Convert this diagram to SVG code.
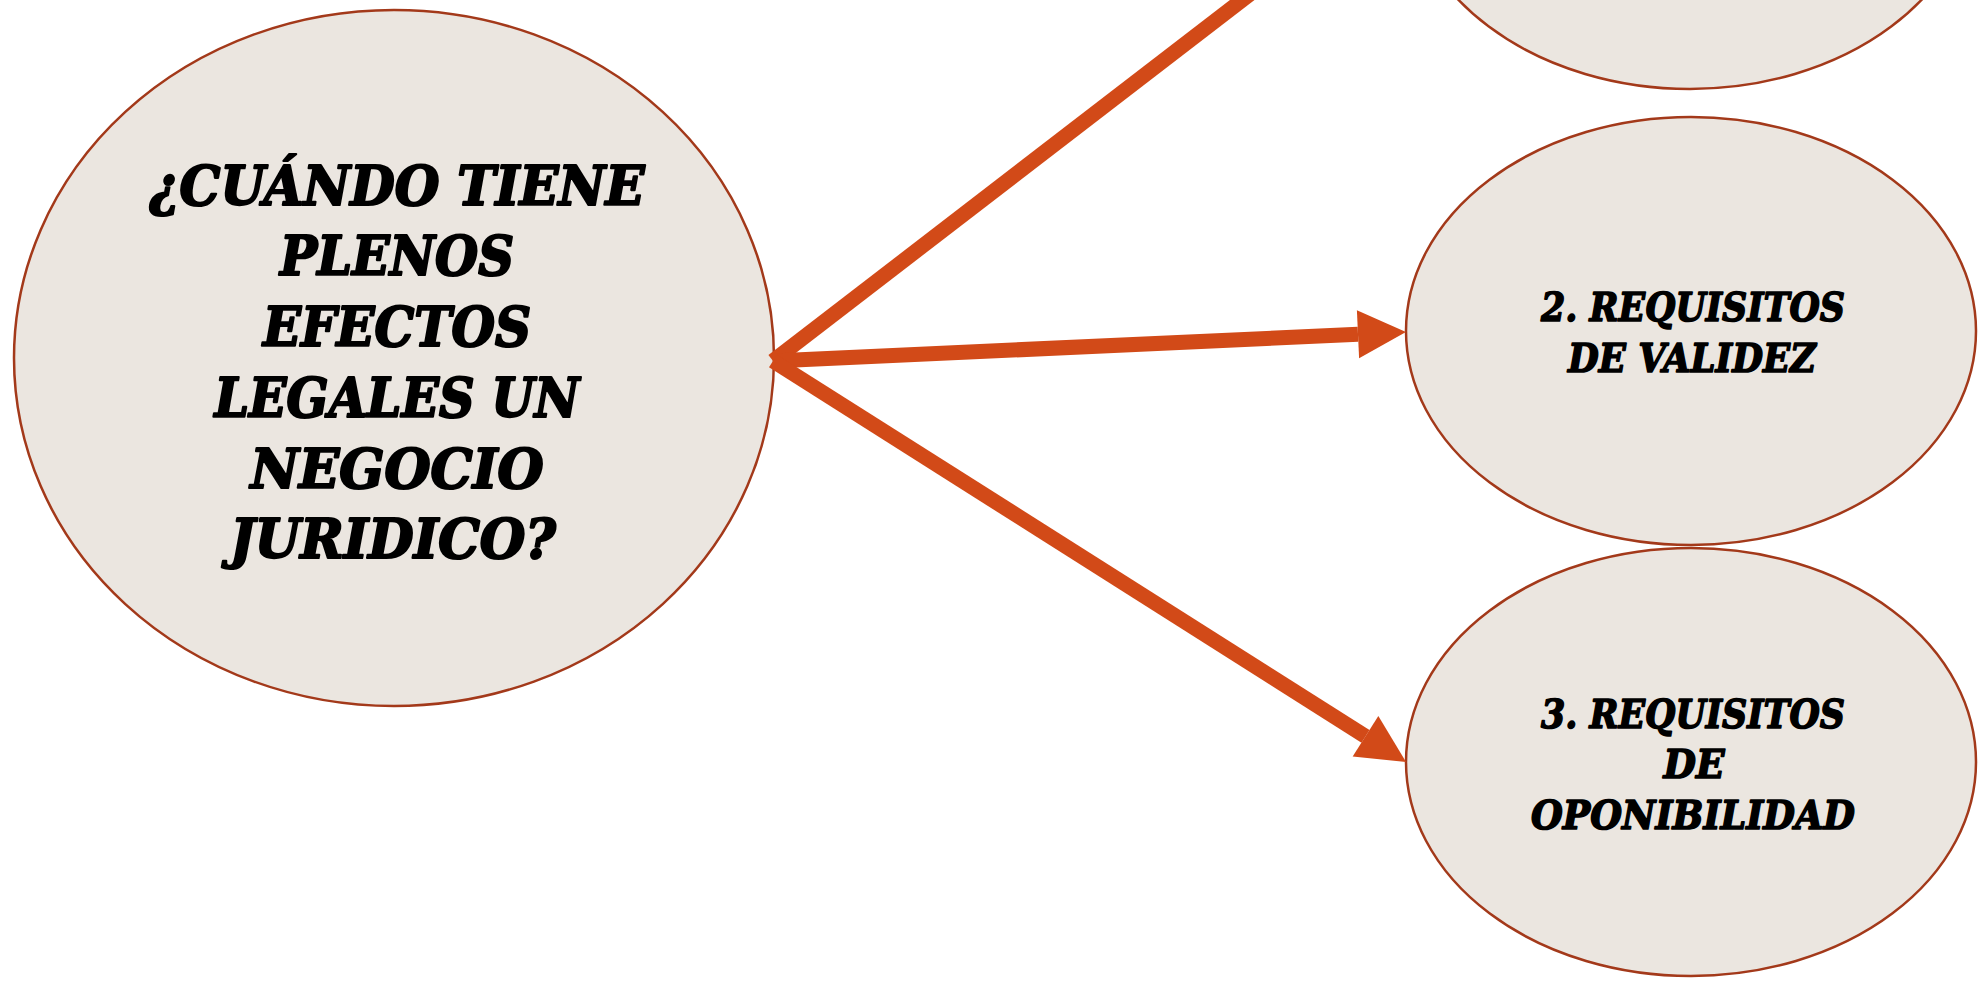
<svg xmlns="http://www.w3.org/2000/svg" width="1983" height="982" viewBox="0 0 1983 982">
<style>
.node{fill:#EBE6E0;stroke:#A3391A;stroke-width:2.5}
.t{font-family:"DejaVu Serif","Liberation Serif",serif;font-weight:bold;font-style:italic;fill:#000;stroke:#000;text-anchor:middle;stroke-linejoin:round}
.big{font-size:54px;stroke-width:2.2}
.small{font-size:40px;stroke-width:1.6}
.conn{stroke:#D24A18;stroke-width:15;fill:none;stroke-linecap:butt}
</style>
<defs>
<marker id="ah" markerUnits="userSpaceOnUse" markerWidth="48" markerHeight="48" refX="0" refY="24" orient="auto" overflow="visible">
<path d="M0,0 L48,24 L0,48 Z" fill="#D24A18"/>
</marker>
</defs>
<rect width="1983" height="982" fill="#FFFFFF"/>
<g id="node-top">
<ellipse class="node" cx="1690" cy="-125" rx="285" ry="214"/>
</g>
<g id="node-question">
<ellipse class="node" cx="394" cy="358" rx="380" ry="348"/>
<text class="t big" x="397" y="205" textLength="495" lengthAdjust="spacingAndGlyphs">¿CUÁNDO TIENE</text>
<text class="t big" x="397" y="275" textLength="234" lengthAdjust="spacingAndGlyphs">PLENOS</text>
<text class="t big" x="397" y="346" textLength="268" lengthAdjust="spacingAndGlyphs">EFECTOS</text>
<text class="t big" x="397" y="417" textLength="365" lengthAdjust="spacingAndGlyphs">LEGALES UN</text>
<text class="t big" x="397" y="488" textLength="293" lengthAdjust="spacingAndGlyphs">NEGOCIO</text>
<text class="t big" x="393" y="558" textLength="326" lengthAdjust="spacingAndGlyphs">JURIDICO?</text>
</g>
<g id="node-validez">
<ellipse class="node" cx="1691" cy="331" rx="285" ry="214"/>
<text class="t small" x="1693" y="321" textLength="304" lengthAdjust="spacingAndGlyphs">2. REQUISITOS</text>
<text class="t small" x="1692" y="372" textLength="248" lengthAdjust="spacingAndGlyphs">DE VALIDEZ</text>
</g>
<g id="node-oponibilidad">
<ellipse class="node" cx="1691" cy="762" rx="285" ry="214"/>
<text class="t small" x="1693" y="728" textLength="304" lengthAdjust="spacingAndGlyphs">3. REQUISITOS</text>
<text class="t small" x="1694" y="778" textLength="61" lengthAdjust="spacingAndGlyphs">DE</text>
<text class="t small" x="1693" y="829" textLength="324" lengthAdjust="spacingAndGlyphs">OPONIBILIDAD</text>
</g>
<g id="connectors">
<line class="conn" x1="773" y1="361" x2="1367" y2="-96" marker-end="url(#ah)"/>
<line class="conn" x1="773" y1="361" x2="1358" y2="334.2" marker-end="url(#ah)"/>
<line class="conn" x1="773" y1="361" x2="1365.5" y2="736.3" marker-end="url(#ah)"/>
</g>
</svg>
